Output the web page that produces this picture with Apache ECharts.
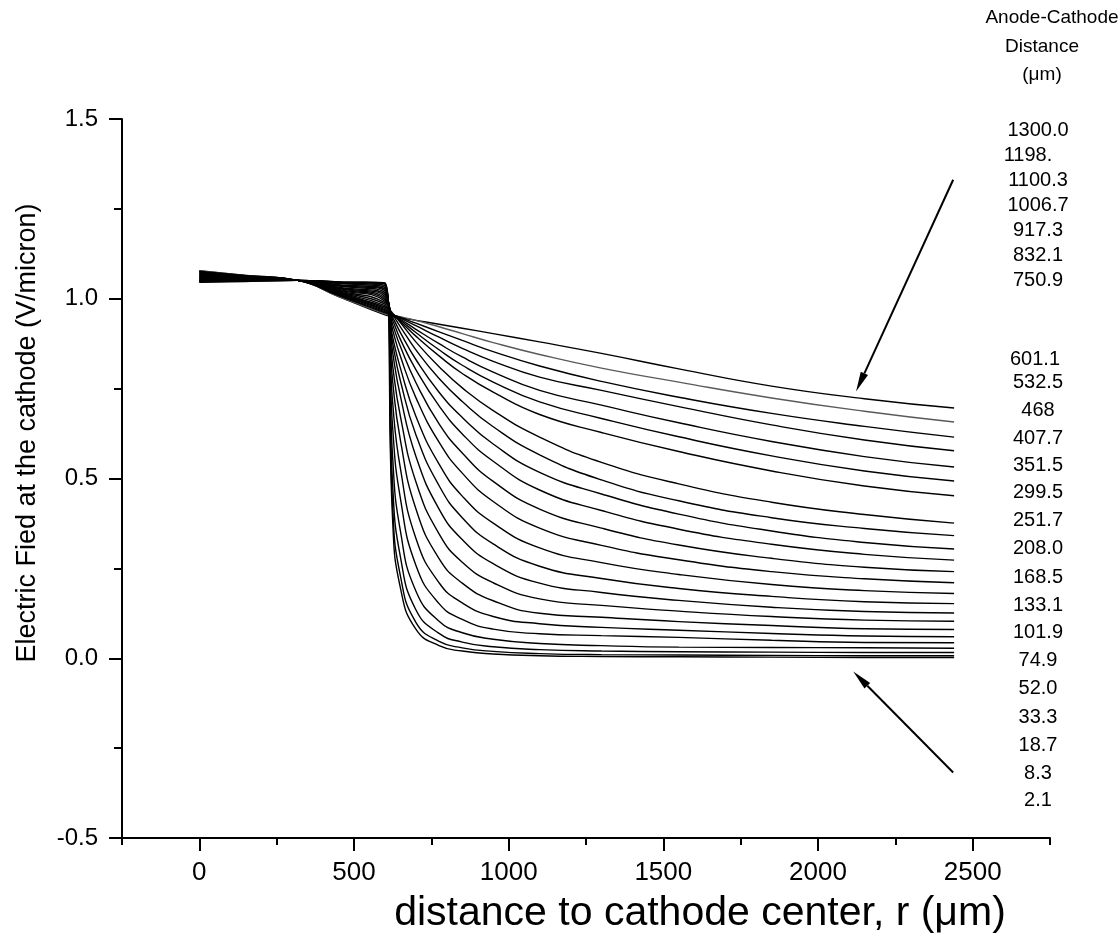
<!DOCTYPE html>
<html><head><meta charset="utf-8">
<script src="https://cdn.jsdelivr.net/npm/echarts@6/dist/echarts.min.js"></script>
<style>html,body{margin:0;padding:0;background:#fff}#c{width:1120px;height:945px}</style>
</head><body><div id="c"></div>
<script>
// ---------- data ----------
const gapLabels = ['1300.0','1198.','1100.3','1006.7','917.3','832.1','750.9',
  '601.1','532.5','468','407.7','351.5','299.5','251.7','208.0','168.5','133.1','101.9',
  '74.9','52.0','33.3','18.7','8.3','2.1'];
const rValues = [0,150,318,450,600,625,650,700,775,850,950,1100,1300,1550,1850,2150,2440];
const e1300 = [1.078,1.065,1.051,1.006,.955,.951,.947,.940,.929,.918,.903,.880,.848,.805,.757,.722,.696];
const e1198 = [1.077,1.065,1.051,1.007,.958,.954,.950,.940,.922,.903,.878,.845,.807,.768,.724,.687,.657];
const e1100 = [1.076,1.064,1.051,1.009,.961,.955,.948,.932,.908,.884,.853,.813,.770,.726,.681,.645,.615];
const e1007 = [1.075,1.064,1.051,1.010,.964,.956,.946,.925,.893,.862,.826,.782,.745,.700,.649,.607,.577];
const e917  = [1.073,1.063,1.051,1.012,.967,.956,.943,.915,.875,.838,.796,.745,.704,.655,.603,.561,.532];
const e832  = [1.072,1.062,1.051,1.013,.970,.956,.940,.906,.858,.815,.768,.713,.667,.616,.563,.521,.493];
const e751  = [1.070,1.061,1.051,1.015,.973,.956,.937,.896,.841,.792,.740,.678,.628,.575,.521,.479,.452];
const e601  = [1.068,1.060,1.051,1.016,.977,.960,.934,.880,.811,.752,.689,.615,.545,.485,.434,.400,.376];
const e533  = [1.066,1.059,1.051,1.018,.981,.955,.922,.858,.778,.714,.644,.566,.496,.438,.391,.361,.341];
const e468  = [1.065,1.058,1.051,1.020,.985,.948,.906,.831,.740,.670,.596,.517,.457,.401,.354,.322,.304];
const e408  = [1.063,1.057,1.051,1.022,.989,.940,.887,.803,.702,.624,.548,.468,.411,.359,.317,.289,.273];
const e352  = [1.062,1.057,1.051,1.024,.993,.928,.867,.767,.652,.571,.492,.415,.362,.315,.278,.253,.241];
const e300  = [1.060,1.056,1.051,1.026,.997,.913,.840,.725,.601,.515,.436,.362,.314,.274,.241,.221,.210];
const e252  = [1.058,1.055,1.051,1.028,1.001,.893,.807,.673,.540,.451,.376,.307,.266,.233,.205,.188,.180];
const e208  = [1.057,1.054,1.051,1.030,1.006,.876,.772,.622,.480,.391,.318,.256,.222,.194,.172,.157,.152];
const e169  = [1.055,1.053,1.051,1.032,1.011,.851,.729,.562,.415,.330,.263,.209,.183,.161,.142,.130,.126];
const e133  = [1.054,1.053,1.051,1.035,1.016,.814,.673,.491,.346,.267,.210,.165,.147,.131,.116,.106,.103];
const e102  = [1.052,1.052,1.051,1.037,1.021,.770,.607,.416,.277,.209,.160,.125,.114,.102,.091,.082,.080];
const e75   = [1.051,1.051,1.051,1.039,1.026,.711,.528,.334,.210,.154,.116,.096,.086,.078,.069,.062,.060];
const e52   = [1.050,1.051,1.051,1.042,1.031,.641,.445,.259,.152,.108,.081,.068,.063,.058,.050,.044,.043];
const e33   = [1.049,1.050,1.051,1.044,1.036,.558,.354,.187,.103,.071,.053,.041,.035,.031,.030,.029,.028];
const e19   = [1.048,1.050,1.051,1.046,1.040,.482,.282,.135,.069,.045,.032,.024,.020,.018,.017,.016,.016];
const e8    = [1.047,1.049,1.051,1.047,1.043,.421,.229,.100,.047,.029,.019,.013,.010,.009,.008,.007,.007];
const e2    = [1.046,1.048,1.051,1.047,1.044,.382,.196,.081,.035,.020,.012,.007,.005,.004,.003,.002,.002];
const xMajorTicks = [0,500,1000,1500,2000,2500];
const xMinorTicks = [-250,250,750,1250,1750,2250,2750];
const arrowUpper = [[2437,1.331],[2123,0.742]];
const arrowLower = [[2437,-0.318],[2114,-0.037]];

const curves = [e1300,e1198,e1100,e1007,e917,e832,e751,e601,e533,e468,e408,e352,e300,e252,e208,e169,e133,e102,e75,e52,e33,e19,e8,e2];

// ---------- layout ----------
const FONT = '"Liberation Sans", Arial, Helvetica, sans-serif';
const labelYs = [130,155,180,205,230,255,280, 359,382,410,438,465,492,520,548,577,605,632,660,688,717,745,773,800];
const labelXs = gapLabels.map(t => t === '1198.' ? 1028 : (t === '601.1' ? 1035 : 1038));

const chart = echarts.init(document.getElementById('c'), null, {renderer:'canvas'});

const series = curves.map((vals, i) => ({
  name: gapLabels[i],
  type: 'line',
  xAxisIndex: 0, yAxisIndex: 0,
  data: rValues.map((r, k) => [r, vals[k]]),
  showSymbol: false, symbol: 'none',
  smooth: 0.5,
  lineStyle: {color: i === 1 ? '#5a5a5a' : '#000', width: 1.4},
  silent: true, animation: false
}));

function txt(id, t, x, y, size, rot) {
  return {
    id, type: 'text', x, y, rotation: rot || 0, silent: true,
    style: {text: t, font: size + 'px ' + FONT, fill: '#000',
      align: 'center', verticalAlign: 'middle', textAlign: 'center', textVerticalAlign: 'middle'}
  };
}
const graphics = [];
gapLabels.forEach((t, i) => graphics.push(txt('lab' + i, t, labelXs[i], labelYs[i], 20)));
[['Anode-Cathode', 1052, 18], ['Distance', 1042, 47], ['(\u03bcm)', 1042, 75]].forEach(([t, x, y], i) =>
  graphics.push(txt('leg' + i, t, x, y, 19)));
graphics.push(txt('ytitle', 'Electric Fied at the cathode (V/micron)', 28, 433, 27, Math.PI / 2));
graphics.push(txt('xtitle', 'distance to cathode center, r (\u03bcm)', 700, 914, 41));

const axisBlack = {color: '#000', width: 2};
chart.setOption({
  animation: false,
  backgroundColor: '#fff',
  grid: {left: 122, right: 70, top: 119, bottom: 107, containLabel: false},
  xAxis: [{
    type: 'value', min: -250, max: 2750, position: 'bottom',
    axisLine: {show: true, onZero: false, lineStyle: axisBlack},
    axisTick: {show: true, customValues: xMajorTicks, length: 13, lineStyle: axisBlack},
    axisLabel: {show: true, customValues: xMajorTicks, fontFamily: FONT, fontSize: 26, color: '#000', margin: 22,
      formatter: v => String(v)},
    splitLine: {show: false}
  }, {
    type: 'value', min: -250, max: 2750, position: 'bottom',
    axisLine: {show: false, onZero: false},
    axisTick: {show: true, customValues: xMinorTicks, length: 7, lineStyle: axisBlack},
    axisLabel: {show: false},
    splitLine: {show: false}
  }],
  yAxis: {
    type: 'value', min: -0.5, max: 1.5, interval: 0.5, position: 'left',
    axisLine: {show: true, onZero: false, lineStyle: axisBlack},
    axisTick: {show: true, length: 13, lineStyle: axisBlack},
    minorTick: {show: true, splitNumber: 2, length: 8, lineStyle: axisBlack},
    axisLabel: {fontFamily: FONT, fontSize: 24, color: '#000', margin: 24, formatter: v => v.toFixed(1)},
    splitLine: {show: false}
  },
  series,
  graphic: graphics
});

// arrows placed through the chart's own scales
function arrowEls(id, pair) {
  const a = chart.convertToPixel({xAxisIndex: 0, yAxisIndex: 0}, pair[0]);
  const b = chart.convertToPixel({xAxisIndex: 0, yAxisIndex: 0}, pair[1]);
  const dx = b[0] - a[0], dy = b[1] - a[1], len = Math.hypot(dx, dy);
  const ux = dx / len, uy = dy / len, head = 20, half = 4;
  const bx = b[0] - ux * head, by = b[1] - uy * head;
  return [
    {id: id + 'l', type: 'line', silent: true, shape: {x1: a[0], y1: a[1], x2: bx, y2: by},
      style: {stroke: '#000', lineWidth: 2}},
    {id: id + 'h', type: 'polygon', silent: true,
      shape: {points: [[b[0], b[1]], [bx - uy * half, by + ux * half], [bx + uy * half, by - ux * half]]},
      style: {fill: '#000'}}
  ];
}
chart.setOption({graphic: [...arrowEls('au', arrowUpper), ...arrowEls('al', arrowLower)]});
</script></body></html>
